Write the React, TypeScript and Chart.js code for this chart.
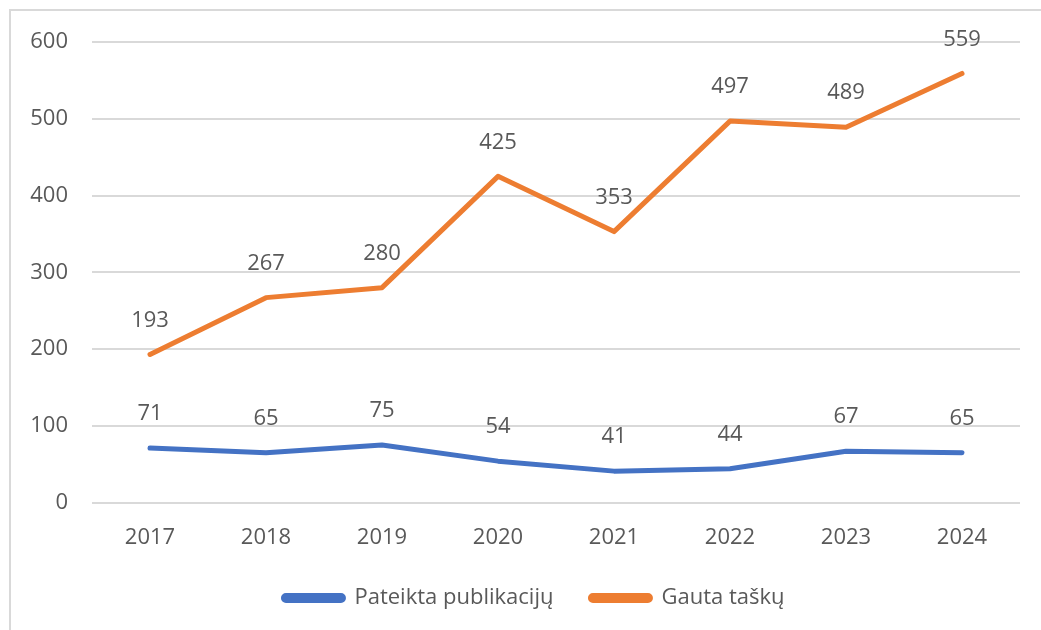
import React, { useEffect, useRef } from "react";
import { Chart, registerables } from "chart.js";

Chart.register(...registerables);

const categories = ["2017", "2018", "2019", "2020", "2021", "2022", "2023", "2024"];
const publikacijos = [71, 65, 75, 54, 41, 44, 67, 65];
const taskai = [193, 267, 280, 425, 353, 497, 489, 559];
const seriesNames = ["Pateikta publikacijų", "Gauta taškų"];

const FONT = "'Open Sans', 'Noto Sans', sans-serif";
const TEXT = "#595959";

const labelsPlugin = {
  id: "pointLabels",
  afterLayout(chart: any) {
    if (chart.legend) {
      chart.legend.left += 19;
      chart.legend.right += 19;
    }
  },
  afterDatasetsDraw(chart: any) {
    const ctx = chart.ctx;
    ctx.save();
    ctx.font = `22px ${FONT}`;
    ctx.fillStyle = TEXT;
    ctx.textAlign = "center";
    ctx.textBaseline = "middle";
    chart.data.datasets.forEach((ds: any, i: number) => {
      const meta = chart.getDatasetMeta(i);
      meta.data.forEach((pt: any, j: number) => {
        ctx.fillText(String(ds.data[j]), pt.x, pt.y - 34);
      });
    });
    ctx.restore();
  },
};

export default function App() {
  const ref = useRef<HTMLCanvasElement>(null);
  useEffect(() => {
    const chart = new Chart(ref.current as HTMLCanvasElement, {
      type: "line",
      data: {
        labels: categories,
        datasets: [
          {
            label: seriesNames[0],
            data: publikacijos,
            borderColor: "#4472C4",
            backgroundColor: "#4472C4",
            borderWidth: 5,
            pointRadius: 0,
            borderCapStyle: "round",
            borderJoinStyle: "round",
            tension: 0,
          },
          {
            label: seriesNames[1],
            data: taskai,
            borderColor: "#ED7D31",
            backgroundColor: "#ED7D31",
            borderWidth: 5,
            pointRadius: 0,
            borderCapStyle: "round",
            borderJoinStyle: "round",
            tension: 0,
          },
        ],
      },
      options: {
        responsive: false,
        animation: false,
        layout: { padding: { left: 10, right: 21, top: 42, bottom: 11 } },
        plugins: {
          tooltip: { enabled: false },
          legend: {
            position: "bottom",
            labels: {
              font: { family: FONT, size: 22 },
              color: TEXT,
              boxWidth: 60,
              boxHeight: 5,
              useBorderRadius: true,
              borderRadius: 2.5,
              padding: 37,
            },
          },
        },
        scales: {
          x: {
            offset: true,
            grid: { display: false, drawTicks: false },
            border: { display: false },
            ticks: { font: { family: FONT, size: 22 }, color: TEXT, padding: 22, maxRotation: 0 },
            afterFit: (s: any) => {
              s.height = s.height - 23;
            },
          },
          y: {
            min: 0,
            max: 600,
            grid: { color: "#d9d9d9", lineWidth: 2, drawTicks: false },
            border: { display: false },
            ticks: { stepSize: 100, font: { family: FONT, size: 22 }, color: TEXT, padding: 24 },
            afterFit: (s: any) => {
              s.width = 82;
            },
          },
        },
      },
      plugins: [labelsPlugin],
    });
    return () => chart.destroy();
  }, []);
  return (
    <div style={{ position: "absolute", left: 0, top: 0, width: 1041, height: 630, overflow: "hidden", background: "#fff" }}>
      <div style={{ position: "absolute", left: 9, top: 9, width: 1060, height: 660, border: "2px solid #d9d9d9" }} />
      <canvas ref={ref} width={1041} height={630} style={{ position: "absolute", left: 0, top: 0 }} />
    </div>
  );
}
